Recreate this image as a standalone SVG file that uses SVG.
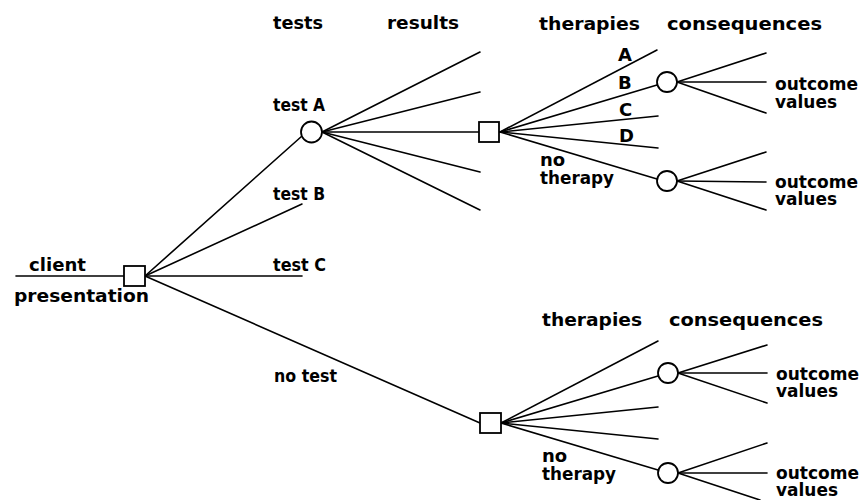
<svg xmlns="http://www.w3.org/2000/svg" width="863" height="500" viewBox="0 0 863 500">
  <style>
    .edge { stroke: #000; stroke-width: 1.6; fill: none; stroke-linecap: round; }
    .chance { fill: #fff; stroke: #000; stroke-width: 1.8; }
    .decision { fill: #fff; stroke: #000; stroke-width: 1.8; }
    text { font-family: "DejaVu Sans", "Liberation Sans", sans-serif; font-weight: bold; font-size: 18px; fill: #000; }
    .ov { font-size: 17px; }
  </style>
  <rect width="863" height="500" fill="#fff"/>

  <!-- column headings -->
  <g id="headings">
    <text x="273" y="29" textLength="50" lengthAdjust="spacingAndGlyphs">tests</text>
    <text x="387" y="29" textLength="72" lengthAdjust="spacingAndGlyphs">results</text>
    <text x="539" y="30" textLength="101" lengthAdjust="spacingAndGlyphs">therapies</text>
    <text x="667" y="30" textLength="155" lengthAdjust="spacingAndGlyphs">consequences</text>
    <text x="542" y="326" textLength="100" lengthAdjust="spacingAndGlyphs">therapies</text>
    <text x="669" y="326" textLength="154" lengthAdjust="spacingAndGlyphs">consequences</text>
  </g>

  <!-- connectors -->
  <g id="connectors" class="edge">
    <!-- entry -->
    <line x1="16" y1="276" x2="124" y2="276"/>
    <!-- test choices -->
    <line x1="145" y1="276" x2="302" y2="136"/>
    <line x1="145" y1="276" x2="302" y2="204"/>
    <line x1="145" y1="276" x2="302" y2="276"/>
    <line x1="145" y1="276" x2="480" y2="423"/>
    <!-- test A results -->
    <line x1="322" y1="132" x2="480" y2="52"/>
    <line x1="322" y1="132" x2="480" y2="92"/>
    <line x1="322" y1="132" x2="479" y2="132"/>
    <line x1="322" y1="132" x2="480" y2="172"/>
    <line x1="322" y1="132" x2="480" y2="210"/>
    <!-- therapies after test A -->
    <line x1="500" y1="132" x2="657" y2="50"/>
    <line x1="500" y1="132" x2="657" y2="85"/>
    <line x1="500" y1="132" x2="658" y2="116"/>
    <line x1="500" y1="132" x2="658" y2="148"/>
    <line x1="500" y1="132" x2="657" y2="179"/>
    <!-- consequences after test A -->
    <line x1="677" y1="82" x2="766" y2="53"/>
    <line x1="677" y1="82" x2="766" y2="82"/>
    <line x1="677" y1="82" x2="766" y2="113"/>
    <line x1="677" y1="181" x2="766" y2="152"/>
    <line x1="677" y1="181" x2="766" y2="182"/>
    <line x1="677" y1="181" x2="766" y2="210"/>
    <!-- therapies without test -->
    <line x1="501" y1="423" x2="658" y2="341"/>
    <line x1="501" y1="423" x2="658" y2="376"/>
    <line x1="501" y1="423" x2="658" y2="407"/>
    <line x1="501" y1="423" x2="658" y2="439"/>
    <line x1="501" y1="423" x2="658" y2="470"/>
    <!-- consequences without test -->
    <line x1="678" y1="373" x2="767" y2="345"/>
    <line x1="678" y1="373" x2="767" y2="373"/>
    <line x1="678" y1="373" x2="767" y2="403"/>
    <line x1="678" y1="473" x2="767" y2="443"/>
    <line x1="678" y1="473" x2="767" y2="473"/>
    <line x1="678" y1="473" x2="760" y2="500"/>
  </g>

  <!-- root decision -->
  <g id="root">
    <rect class="decision" x="124" y="266" width="21" height="20"/>
    <text x="29" y="271" textLength="57" lengthAdjust="spacingAndGlyphs">client</text>
    <text x="14" y="302" textLength="135" lengthAdjust="spacingAndGlyphs">presentation</text>
  </g>

  <g id="testB">
    <text x="273" y="200" textLength="52" lengthAdjust="spacingAndGlyphs">test B</text>
  </g>
  <g id="testC">
    <text x="273" y="271" textLength="53" lengthAdjust="spacingAndGlyphs">test C</text>
  </g>

  <!-- test A chance node -->
  <g id="testA">
    <circle class="chance" cx="311.5" cy="132" r="10.5"/>
    <text x="273" y="111" textLength="52" lengthAdjust="spacingAndGlyphs">test A</text>
  </g>

  <!-- therapy decision after test A -->
  <g id="therapyA">
    <rect class="decision" x="479" y="122" width="20" height="20"/>
    <text x="618" y="61">A</text>
    <text x="618" y="89">B</text>
    <text x="619" y="116">C</text>
    <text x="619" y="142">D</text>
    <text x="540" y="166">no</text>
    <text x="540" y="184" textLength="74" lengthAdjust="spacingAndGlyphs">therapy</text>
  </g>

  <g id="outcomeA1">
    <circle class="chance" cx="667" cy="82" r="10"/>
    <text class="ov" x="775" y="90" textLength="83" lengthAdjust="spacingAndGlyphs">outcome</text>
    <text class="ov" x="775" y="108" textLength="62" lengthAdjust="spacingAndGlyphs">values</text>
  </g>
  <g id="outcomeA2">
    <circle class="chance" cx="667" cy="181" r="10"/>
    <text class="ov" x="775" y="188" textLength="83" lengthAdjust="spacingAndGlyphs">outcome</text>
    <text class="ov" x="775" y="205" textLength="62" lengthAdjust="spacingAndGlyphs">values</text>
  </g>

  <!-- therapy decision without test -->
  <g id="therapyN">
    <rect class="decision" x="480" y="413" width="21" height="20"/>
    <text x="274" y="382" textLength="63" lengthAdjust="spacingAndGlyphs">no test</text>
    <text x="542" y="462">no</text>
    <text x="542" y="480" textLength="74" lengthAdjust="spacingAndGlyphs">therapy</text>
  </g>

  <g id="outcomeN1">
    <circle class="chance" cx="668" cy="373" r="10"/>
    <text class="ov" x="776" y="380" textLength="83" lengthAdjust="spacingAndGlyphs">outcome</text>
    <text class="ov" x="776" y="397" textLength="62" lengthAdjust="spacingAndGlyphs">values</text>
  </g>
  <g id="outcomeN2">
    <circle class="chance" cx="668" cy="473" r="10"/>
    <text class="ov" x="776" y="479" textLength="83" lengthAdjust="spacingAndGlyphs">outcome</text>
    <text class="ov" x="776" y="496" textLength="62" lengthAdjust="spacingAndGlyphs">values</text>
  </g>
</svg>
